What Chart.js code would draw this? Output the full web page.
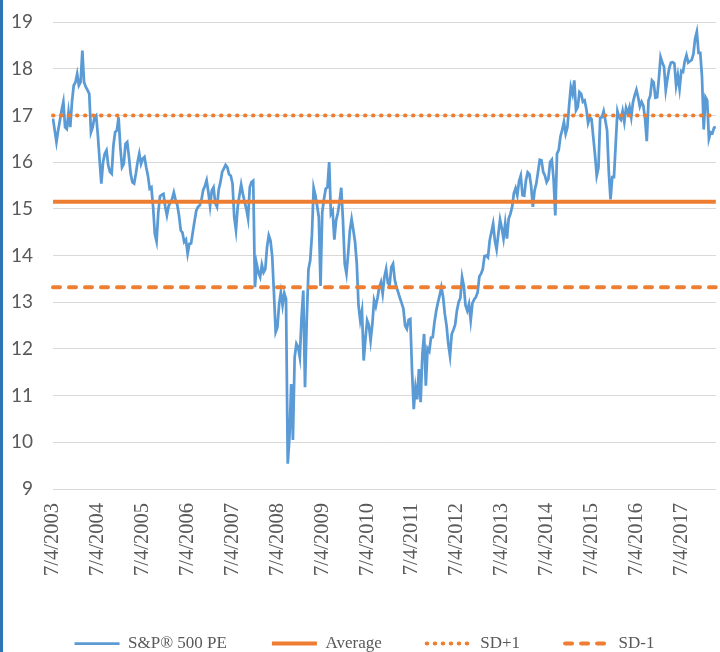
<!DOCTYPE html>
<html>
<head>
<meta charset="utf-8">
<script src="https://cdn.jsdelivr.net/npm/chart.js@4.4.1/dist/chart.umd.min.js"></script>
<style>
  html, body { margin: 0; padding: 0; background: #fff; overflow: hidden; }
  #wrap { position: relative; width: 720px; height: 662px; }
  #edge { position: absolute; left: 0; top: 0; width: 3px; height: 652px; background: #2e75b6; }
</style>
</head>
<body>
<div id="wrap">
  <canvas id="chart" width="720" height="662"></canvas>
  <div id="edge"></div>
</div>
<script>
// one label per year, a point every 2 weeks
const yearLabels = ['7/4/2003', '7/4/2004', '7/4/2005', '7/4/2006', '7/4/2007', '7/4/2008', '7/4/2009',
  '7/4/2010', '7/4/2011', '7/4/2012', '7/4/2013', '7/4/2014', '7/4/2015', '7/4/2016', '7/4/2017']
const stepsPerYear = 26

const pe = [
  16.93, 16.68, 16.43, 16.68, 16.89, 17.11, 17.29, 16.75, 16.71, 17.07, 16.75, 17.29, 17.64,
  17.71, 17.89, 17.64, 17.71, 18.39, 17.71, 17.61, 17.54, 17.46, 16.64, 16.75, 16.96, 17.0,
  16.57, 16.04, 15.54, 16.0, 16.18, 16.25, 15.93, 15.79, 15.75, 16.36, 16.64, 16.68, 16.96,
  16.32, 15.89, 15.96, 16.39, 16.43, 16.11, 15.75, 15.57, 15.54, 15.75, 16.0, 16.18, 15.96,
  16.07, 16.11, 15.89, 15.71, 15.43, 15.46, 15.04, 14.46, 14.3, 14.93, 15.27, 15.3, 15.32,
  15.05, 14.86, 15.06, 15.13, 15.21, 15.35, 15.19, 15.08, 14.86, 14.54, 14.49, 14.29, 14.34,
  14.04, 14.25, 14.26, 14.5, 14.74, 14.96, 15.04, 15.07, 15.19, 15.4, 15.49, 15.61, 15.36,
  15.06, 15.39, 15.46, 15.12, 15.04, 15.41, 15.57, 15.79, 15.86, 15.94, 15.89, 15.74, 15.71,
  15.54, 14.82, 14.54, 15.04, 15.29, 15.52, 15.32, 15.15, 15.0, 14.79, 15.46, 15.57, 15.6,
  13.32, 13.82, 13.64, 13.54, 13.8, 13.64, 13.71, 14.18, 14.43, 14.32, 13.98, 13.2, 12.36,
  12.46, 12.96, 13.21, 12.93, 13.19, 13.07, 9.54, 10.11, 11.25, 10.05, 11.82, 12.11, 12.04,
  11.82, 12.68, 13.25, 11.18, 12.61, 13.7, 13.89, 14.43, 15.45, 15.29, 15.07, 14.82, 13.35,
  14.93, 15.21, 15.43, 15.46, 16.0, 14.89, 14.96, 14.34, 14.75, 14.91, 15.14, 15.45, 14.75,
  13.82, 13.61, 14.04, 14.54, 14.78, 14.54, 14.29, 13.82, 12.93, 12.61, 12.82, 11.75, 12.21,
  12.61, 12.51, 12.18, 12.52, 13.04, 12.91, 13.09, 13.32, 13.43, 13.18, 13.54, 13.71, 13.41,
  13.36, 13.75, 13.82, 13.48, 13.32, 13.21, 13.09, 12.98, 12.86, 12.5, 12.43, 12.62, 12.64,
  11.54, 10.71, 11.18, 10.92, 11.57, 10.86, 11.89, 12.32, 11.21, 12.01, 11.95, 12.24, 12.25,
  12.57, 12.81, 12.99, 13.14, 13.32, 13.12, 12.75, 12.5, 12.11, 11.85, 12.32, 12.41, 12.52,
  12.82, 13.0, 13.09, 13.54, 13.35, 12.93, 12.82, 12.96, 12.61, 12.98, 13.06, 13.11, 13.21,
  13.55, 13.61, 13.71, 13.99, 14.0, 13.96, 14.32, 14.5, 14.68, 14.32, 14.13, 14.46, 14.77,
  14.59, 14.36, 14.69, 14.36, 14.79, 14.89, 15.04, 15.33, 15.44, 15.29, 15.59, 15.71, 15.29,
  15.28, 15.61, 15.78, 15.74, 15.49, 15.04, 15.39, 15.54, 15.79, 16.05, 16.04, 15.79, 15.71,
  15.57, 15.64, 16.0, 16.05, 15.64, 14.86, 16.18, 16.26, 16.55, 16.69, 16.86, 16.61, 16.74,
  17.21, 17.61, 17.46, 17.75, 17.11, 17.18, 17.5, 17.46, 17.29, 17.32, 17.14, 16.84, 16.96,
  16.92, 16.54, 16.16, 15.71, 15.88, 16.95, 16.96, 17.09, 16.89, 16.68, 15.79, 15.2, 15.68,
  15.68, 16.39, 17.09, 16.96, 16.91, 17.09, 16.86, 17.16, 17.05, 17.18, 16.96, 17.28, 17.43,
  17.55, 17.39, 17.19, 17.29, 17.21, 16.93, 16.45, 17.32, 17.42, 17.75, 17.71, 17.38, 17.39,
  17.79, 18.25, 18.13, 18.04, 17.54, 17.79, 18.01, 18.13, 18.14, 18.11, 17.64, 17.86, 17.57,
  17.95, 17.93, 18.16, 18.29, 18.13, 18.16, 18.19, 18.31, 18.64, 18.79, 18.34, 18.34, 17.82,
  16.7, 17.39, 17.32, 16.5, 16.64, 16.62, 16.74, 16.75
]

const average = 15.15
const sdPlus = 17.0
const sdMinus = 13.32

const labels = pe.map((v, i) => i)
const flat = (val) => pe.map(() => val)

const orange = '#ed7d31'
const grey = '#595959'

// legend samples should copy the dash pattern of each line
const legendLabels = (chart) =>
  Chart.defaults.plugins.legend.labels.generateLabels(chart).map((item) => {
    const ds = chart.data.datasets[item.datasetIndex]
    item.lineDash = ds.borderDash || []
    item.lineCap = ds.borderCapStyle || 'butt'
    item.lineWidth = ds.borderWidth
    item.strokeStyle = ds.borderColor
    return item
  })

new Chart(document.getElementById('chart'), {
  type: 'line',
  data: {
    labels,
    datasets: [
      {
        label: 'S&P® 500 PE',
        data: pe,
        borderColor: '#5b9bd5',
        borderWidth: 2.75,
        pointRadius: 0,
        tension: 0,
        order: 3,
      },
      {
        label: 'Average',
        data: flat(average),
        borderColor: orange,
        borderWidth: 4,
        pointRadius: 0,
        order: 2,
      },
      {
        label: 'SD+1',
        data: flat(sdPlus),
        borderColor: orange,
        borderWidth: 4,
        borderDash: [0.5, 7.5],
        borderCapStyle: 'round',
        pointRadius: 0,
        order: 1,
      },
      {
        label: 'SD-1',
        data: flat(sdMinus),
        borderColor: orange,
        borderWidth: 4,
        borderDash: [7, 9],
        borderCapStyle: 'round',
        pointRadius: 0,
        order: 0,
      },
    ],
  },
  options: {
    responsive: false,
    animation: false,
    layout: { padding: { left: 11, right: 2, top: 22, bottom: 0 } },
    plugins: {
      tooltip: { enabled: false },
      legend: {
        position: 'bottom',
        labels: {
          usePointStyle: true,
          pointStyle: 'line',
          pointStyleWidth: 45,
          padding: 45,
          color: grey,
          font: { family: 'Liberation Serif', size: 17 },
          sort: (a, b) => a.datasetIndex - b.datasetIndex,
          generateLabels: legendLabels,
        },
      },
    },
    scales: {
      x: {
        type: 'category',
        offset: false,
        grid: { display: false, drawTicks: false },
        border: { display: false },
        ticks: {
          autoSkip: false,
          minRotation: 90,
          maxRotation: 90,
          padding: 14,
          color: grey,
          font: { family: 'Liberation Serif', size: 20.5 },
          callback: (val, i) => (i % stepsPerYear === 0 ? yearLabels[i / stepsPerYear] : null),
        },
        afterFit: (scale) => { scale.height = 101 },
      },
      y: {
        min: 9,
        max: 19,
        grid: { color: '#d9d9d9', lineWidth: 1, drawTicks: false },
        border: { display: false },
        ticks: {
          stepSize: 1,
          padding: 20,
          color: grey,
          font: { family: 'Lato', size: 19 },
        },
        afterFit: (scale) => {
          scale.width = 42
          scale.paddingTop = 0
          scale.paddingBottom = 0
        },
      },
    },
  },
})
</script>
</body>
</html>
